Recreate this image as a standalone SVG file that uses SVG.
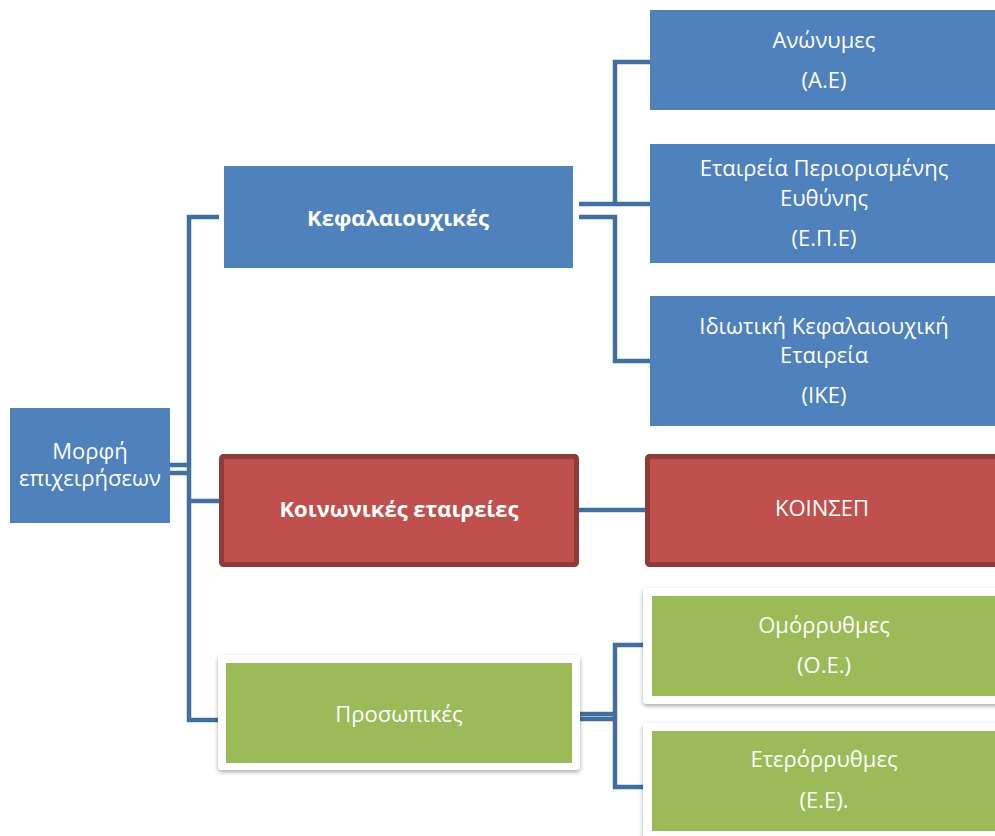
<svg xmlns="http://www.w3.org/2000/svg" width="995" height="836" viewBox="0 0 995 836">
<defs>
<filter id="sh" x="-10%" y="-10%" width="120%" height="130%">
<feDropShadow dx="0" dy="2" stdDeviation="2" flood-color="#000" flood-opacity="0.35"/>
</filter>
<style>
.blue{fill:#4F81BD}
.red{fill:#C0504D;stroke:#8E3B39;stroke-width:5}
.frame{fill:#fff;filter:url(#sh)}
.green{fill:#9BBB59}
.c{fill:none;stroke:#41709F;stroke-width:4.5}
text{font-family:"Open Sans","Noto Sans","Liberation Sans",sans-serif;font-size:22px;fill:#fff;text-anchor:middle}
.b{font-weight:bold}
</style>
</defs>
<rect width="995" height="836" fill="#fff"/>
<g id="connectors">
<path class="c" d="M170,465 H189 M170,473 H189"/>
<path class="c" d="M219,217 H189 V720 H222 M189,501 H222"/>
<path class="c" d="M579,204 H615 V62 H650 M615,204 H650"/>
<path class="c" d="M579,217 H615 V361 H650"/>
<path class="c" d="M579,510 H646"/>
<path class="c" d="M580,714 H615 M580,719 H615 M615,716 V645 H646 M615,716 V787 H646"/>
</g>
<g id="root">
<rect class="blue" x="10" y="408" width="160" height="115"/>
<text x="90" y="459">Μορφή</text>
<text x="90" y="486">επιχειρήσεων</text>
</g>
<g id="kefalaiouxikes">
<rect class="blue" x="224" y="166" width="349" height="102"/>
<text class="b" x="398" y="226">Κεφαλαιουχικές</text>
</g>
<g id="koinonikes">
<rect class="red" x="221.5" y="456.5" width="355" height="108" rx="2"/>
<text class="b" x="399" y="517">Κοινωνικές εταιρείες</text>
</g>
<g id="prosopikes">
<rect class="frame" x="218" y="655" width="362" height="115" rx="4"/>
<rect class="green" x="226" y="663" width="346" height="100"/>
<text x="399" y="722">Προσωπικές</text>
</g>
<g id="ae">
<rect class="blue" x="650" y="10" width="350" height="100"/>
<text x="824" y="48">Ανώνυμες</text>
<text x="824" y="88">(Α.Ε)</text>
</g>
<g id="epe">
<rect class="blue" x="650" y="144" width="350" height="119"/>
<text x="824" y="176">Εταιρεία Περιορισμένης</text>
<text x="824" y="206">Ευθύνης</text>
<text x="824" y="246">(Ε.Π.Ε)</text>
</g>
<g id="ike">
<rect class="blue" x="650" y="296" width="350" height="130"/>
<text x="824" y="334">Ιδιωτική Κεφαλαιουχική</text>
<text x="824" y="363">Εταιρεία</text>
<text x="824" y="403">(ΙΚΕ)</text>
</g>
<g id="koinsep">
<rect class="red" x="647.5" y="456.5" width="360" height="108" rx="2"/>
<text x="822" y="516">ΚΟΙΝΣΕΠ</text>
</g>
<g id="oe">
<rect class="frame" x="643" y="588" width="365" height="116" rx="4"/>
<rect class="green" x="652" y="596" width="350" height="100"/>
<text x="824" y="633">Ομόρρυθμες</text>
<text x="824" y="673">(Ο.Ε.)</text>
</g>
<g id="ee">
<rect class="frame" x="643" y="723" width="365" height="120" rx="4"/>
<rect class="green" x="652" y="731" width="350" height="100"/>
<text x="824" y="767">Ετερόρρυθμες</text>
<text x="824" y="808">(Ε.Ε).</text>
</g>
</svg>
